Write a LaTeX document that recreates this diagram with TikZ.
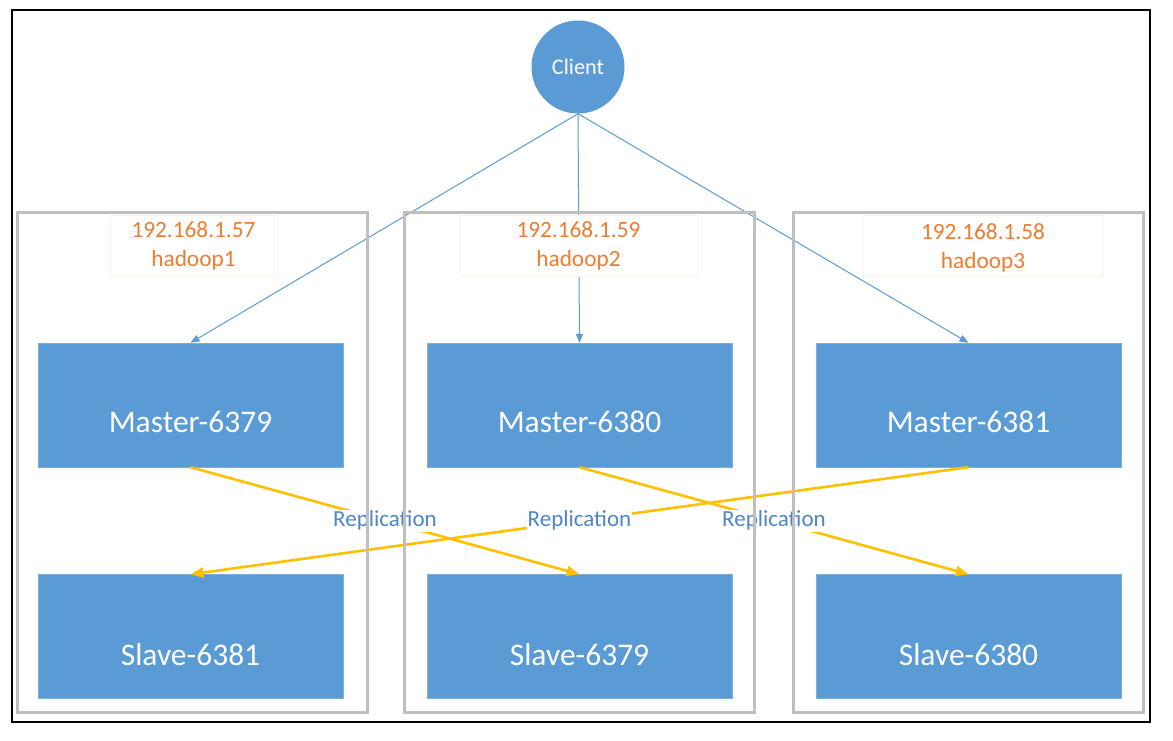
\documentclass[tikz,border=0pt]{standalone}
\usepackage{fontspec}
\setmainfont{Carlito}
\usetikzlibrary{arrows.meta}
\definecolor{boxblue}{HTML}{5B9BD5}
\definecolor{lineblue}{HTML}{5B9BD5}
\definecolor{replyellow}{HTML}{FFC000}
\definecolor{iporange}{HTML}{ED7D31}
\definecolor{replblue}{HTML}{4F86C6}
\definecolor{hostgray}{HTML}{BFBFBF}
\definecolor{tagborder}{HTML}{FDF1EB}
\tikzset{
  server/.style={fill=boxblue, draw=boxblue!80!white, minimum width=305pt, minimum height=124pt, inner sep=0pt},
  srvtext/.style={text=white, font=\fontsize{31.5}{36}\selectfont, inner sep=0pt},
  hostbox/.style={draw=hostgray, line width=3pt},
  tagbox/.style={draw=tagborder, fill=white, line width=0.8pt},
  iptext/.style={text=iporange, font=\fontsize{23.3}{27}\selectfont, inner sep=0pt},
  clientlink/.style={draw=lineblue, line width=1pt, -{Triangle[length=9pt,width=7pt]}},
  repllink/.style={draw=replyellow, line width=2.6pt, -{Triangle[length=13pt,width=10pt]}},
  repllabel/.style={fill=white, text=replblue, font=\fontsize{23}{26}\selectfont, inner sep=1pt},
}
\begin{document}
\begin{tikzpicture}[x=1pt,y=-1pt]
\useasboundingbox (0,0) rectangle (1173,740);
\fill[white] (0,0) rectangle (1173,740);
% outer frame
\draw[black, line width=2pt] (12,10) rectangle (1150,722);

% client
\node[circle, fill=boxblue, draw=none, minimum size=93pt, inner sep=0pt, text=white, font=\fontsize{22.3}{26}\selectfont] (client) at (578,67) {Client};

% servers
\node[server] (m1) at (190.5,405) {};
\node[server] (m2) at (579.5,405) {};
\node[server] (m3) at (968.5,405) {};
\node[server] (s1) at (190.5,636.5) {};
\node[server] (s2) at (579.5,636.5) {};
\node[server] (s3) at (968.5,636.5) {};
\node[srvtext] (m1t) at ([yshift=-17pt]m1.center) {Master-6379};
\node[srvtext] (m2t) at ([yshift=-17pt]m2.center) {Master-6380};
\node[srvtext] (m3t) at ([yshift=-17pt]m3.center) {Master-6381};
\node[srvtext] (s1t) at ([yshift=-18pt]s1.center) {Slave-6381};
\node[srvtext] (s2t) at ([yshift=-18pt]s2.center) {Slave-6379};
\node[srvtext] (s3t) at ([yshift=-18pt]s3.center) {Slave-6380};

% client links
\draw[clientlink] (client.south) -- (m1.north);
\draw[clientlink] (client.south) -- (m2.north);
\draw[clientlink] (client.south) -- (m3.north);

% replication links
\draw[repllink] (m1.south) -- node[repllabel, pos=0.5] (r1) {Replication} (s2.north);
\draw[repllink] (m2.south) -- node[repllabel, pos=0.5] (r3) {Replication} (s3.north);
\draw[repllink] (m3.south) -- node[repllabel, pos=0.5] (r2) {Replication} (s1.north);

% host tags
\draw[tagbox] (110,215) rectangle (277,276);
\draw[tagbox] (459,215) rectangle (698,276);
\draw[tagbox] (863,215) rectangle (1103,276);
\node[iptext] (ip1) at (193.5,230) {192.168.1.57};
\node[iptext] (h1) at (193.5,260) {hadoop1};
\node[iptext] (ip2) at (578.5,230) {192.168.1.59};
\node[iptext] (h2) at (578.5,260) {hadoop2};
\node[iptext] (ip3) at (983,232) {192.168.1.58};
\node[iptext] (h3) at (983,262) {hadoop3};

% host boxes
\draw[hostbox] (17.5,212.5) rectangle (367.5,712.5);
\draw[hostbox] (404,212.5) rectangle (754,712.5);
\draw[hostbox] (793.5,212.5) rectangle (1143.5,712.5);
\end{tikzpicture}
\end{document}
